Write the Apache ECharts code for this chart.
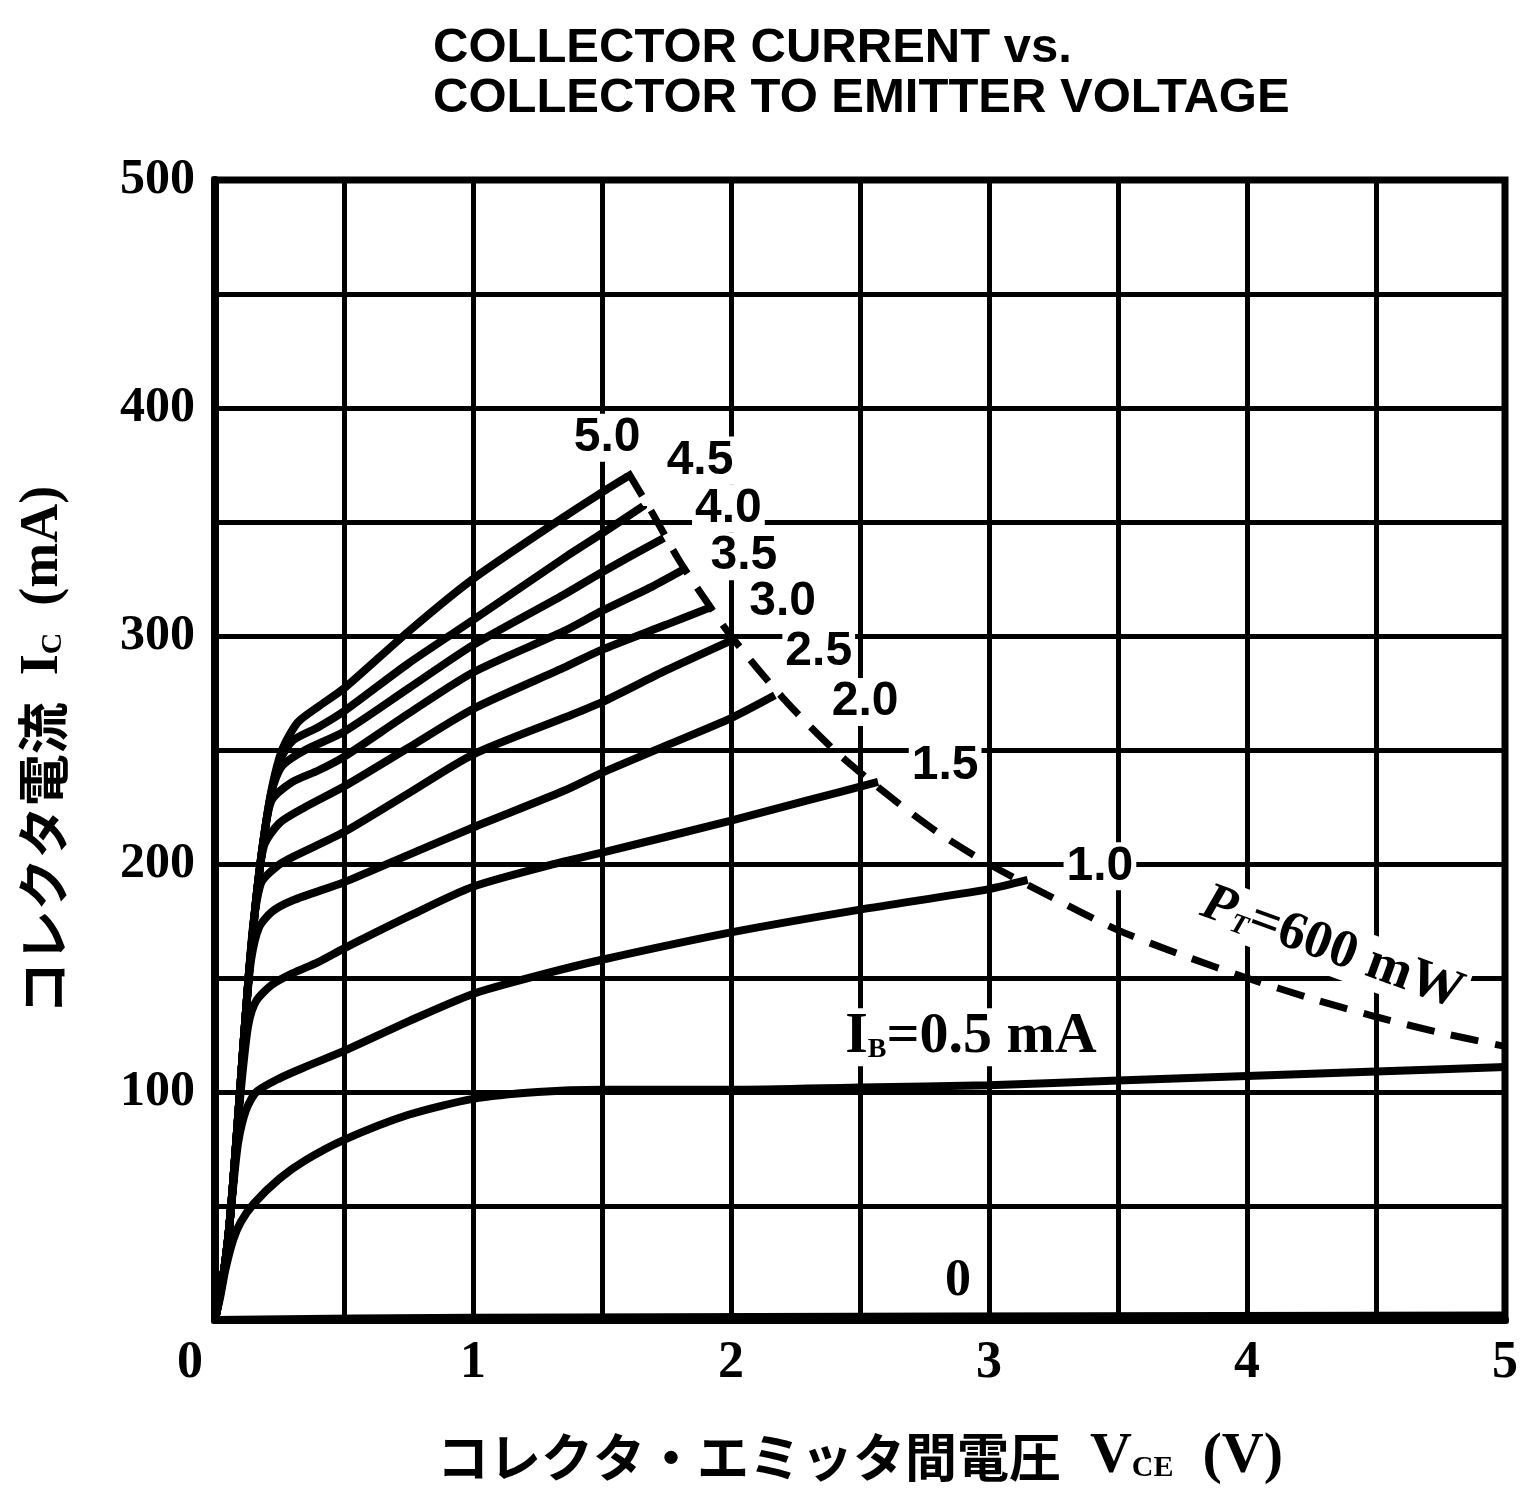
<!DOCTYPE html>
<html>
<head>
<meta charset="utf-8">
<script src="https://cdn.jsdelivr.net/npm/echarts@6/dist/echarts.min.js"></script>
<style>
html,body{margin:0;padding:0;background:#fff;}
#chart{width:1528px;height:1491px;}
</style>
</head>
<body>
<div id="chart"></div>
<script>
// ---- data (VCE in V, IC in mA) ----
const xTicks = [0, 1, 2, 3, 4, 5];
const yTicks = [100, 200, 300, 400, 500];

const ibLabels = ['0', '0.5', '1.0', '1.5', '2.0', '2.5', '3.0', '3.5', '4.0', '4.5', '5.0'];

const ib00 = [[0,0],[1,1],[5,2]];
const ib05 = [[0,0],[0.02,10],[0.04,22],[0.07,35],[0.1,43],[0.15,51],[0.25,62],[0.35,70],[0.5,79],[0.75,90],[1,97],[1.25,100],[1.5,101],[2,101],[2.5,102],[3,103],[3.5,105],[4,107],[4.5,109],[5,111]];
const ib10 = [[0,0],[0.03,18],[0.05,35],[0.07,58],[0.09,78],[0.12,92],[0.16,100],[0.25,106],[0.35,111],[0.5,118],[0.75,131],[1,143],[1.25,151],[1.5,158],[2,170],[2.5,180],[3,189],[3.15,193]];
const ib15 = [[0,0],[0.03,18],[0.05,35],[0.07,60],[0.09,88],[0.11,112],[0.13,130],[0.16,140],[0.22,147],[0.3,152],[0.4,157],[0.5,163],[0.75,177],[1,190],[1.35,201],[1.5,205],[2,219],[2.3,228],[2.57,236]];
const ib20 = [[0,0],[0.03,18],[0.05,35],[0.07,60],[0.1,105],[0.12,135],[0.14,158],[0.17,172],[0.22,179],[0.3,184],[0.5,192],[0.75,204],[1,216],[1.35,232],[1.5,240],[1.75,252],[2,264],[2.17,274]];
const ib25 = [[0,0],[0.03,18],[0.05,35],[0.07,60],[0.1,105],[0.13,150],[0.15,175],[0.18,192],[0.24,199],[0.3,203],[0.5,214],[0.75,231],[1,248],[1.35,264],[1.5,271],[1.75,285],[2,298]];
const ib30 = [[0,0],[0.03,18],[0.05,35],[0.07,60],[0.1,105],[0.13,150],[0.16,185],[0.19,208],[0.25,218],[0.35,225],[0.5,234],[0.75,251],[1,268],[1.35,286],[1.5,294],[1.75,305],[1.93,313]];
const ib35 = [[0,0],[0.03,18],[0.05,35],[0.07,60],[0.1,105],[0.13,150],[0.16,185],[0.19,212],[0.22,228],[0.3,236],[0.4,241],[0.5,247],[0.75,266],[1,284],[1.35,302],[1.5,311],[1.7,322],[1.83,330]];
const ib40 = [[0,0],[0.03,18],[0.05,35],[0.07,60],[0.1,105],[0.13,150],[0.16,185],[0.19,212],[0.22,232],[0.26,243],[0.35,250],[0.5,258],[0.75,277],[1,296],[1.35,318],[1.5,328],[1.74,343]];
const ib45 = [[0,0],[0.03,18],[0.05,35],[0.07,60],[0.1,105],[0.13,150],[0.16,185],[0.19,212],[0.22,232],[0.25,245],[0.3,254],[0.4,260],[0.5,267],[0.75,288],[1,307],[1.35,334],[1.5,345],[1.66,357]];
const ib50 = [[0,0],[0.03,18],[0.05,35],[0.07,60],[0.1,105],[0.13,150],[0.16,185],[0.19,212],[0.22,233],[0.26,250],[0.32,262],[0.4,269],[0.5,277],[0.75,302],[1,325],[1.35,352],[1.5,363],[1.6,370]];

// power dissipation limit PT = 600 mW
const ptLimit = [[1.6,372],[1.7,353],[1.8,333],[1.9,316],[2,300],[2.2,273],[2.4,250],[2.6,231],[2.8,214],[3,200],[3.25,185],[3.5,171],[3.75,160],[4,150],[4.25,141],[4.5,133],[4.75,126],[5,120]];

const curves = [ib00, ib05, ib10, ib15, ib20, ib25, ib30, ib35, ib40, ib45, ib50];

// ---- annotation placement (data coordinates) ----
const curveLabelAt = {
  '5.0': [1.52, 387], '4.5': [1.88, 377], '4.0': [1.99, 356], '3.5': [2.05, 335],
  '3.0': [2.20, 315], '2.5': [2.34, 293], '2.0': [2.52, 271], '1.5': [2.83, 243],
  '1.0': [3.43, 199], '0': [2.88, 17]
};

const SERIF = '"Liberation Serif","DejaVu Serif",serif';
const SANS = '"Liberation Sans","DejaVu Sans",sans-serif';
const CJK = '"Noto Sans CJK JP","Noto Sans CJK SC",sans-serif';

const chart = echarts.init(document.getElementById('chart'), null, {renderer: 'canvas'});

const series = curves.map((d, i) => ({
  name: 'IB=' + ibLabels[i],
  type: 'line',
  data: d,
  showSymbol: false,
  symbol: 'none',
  smooth: 0.25,
  lineStyle: {color: '#000', width: 8},
  z: 5,
  silent: true
}));

series.push({
  name: 'PT',
  type: 'line',
  data: ptLimit,
  showSymbol: false,
  symbol: 'none',
  smooth: 0.3,
  lineStyle: {color: '#000', width: 7, type: [28, 17]},
  z: 5,
  silent: true
});

const labelItems = [];
ibLabels.forEach(t => {
  if (t === '0.5') return;
  const p = curveLabelAt[t];
  labelItems.push({
    value: p,
    label: {
      formatter: t,
      color: '#000',
      fontFamily: t === '0' ? SERIF : SANS,
      fontWeight: 'bold',
      fontSize: t === '0' ? 52 : 48,
      backgroundColor: '#fff',
      padding: [0, 3, 0, 3]
    }
  });
});
labelItems.push({
  value: [2.93, 124],
  label: {
    formatter: '{i|I}{s|B}{n|=0.5 mA}',
    backgroundColor: '#fff',
    padding: [0, 4, 0, 4],
    rich: {
      i: {fontFamily: SERIF, fontWeight: 'bold', fontSize: 58, color: '#000'},
      s: {fontFamily: SERIF, fontWeight: 'bold', fontSize: 28, color: '#000', padding: [24, 0, 0, 0]},
      n: {fontFamily: SERIF, fontWeight: 'bold', fontSize: 58, color: '#000'}
    }
  }
});
labelItems.push({
  value: [4.33, 163],
  label: {
    formatter: '{i|P}{s|T}{n|=600 mW}',
    rotate: -20,
    backgroundColor: '#fff',
    padding: [0, 4, 0, 4],
    rich: {
      i: {fontFamily: SERIF, fontWeight: 'bold', fontStyle: 'italic', fontSize: 54, color: '#000'},
      s: {fontFamily: SERIF, fontWeight: 'bold', fontStyle: 'italic', fontSize: 28, color: '#000', padding: [22, 0, 0, 0]},
      n: {fontFamily: SERIF, fontWeight: 'bold', fontSize: 54, color: '#000'}
    }
  }
});

series.push({
  name: 'labels',
  type: 'scatter',
  data: labelItems,
  symbolSize: 0,
  silent: true,
  z: 10,
  itemStyle: {opacity: 1},
  label: {show: true, position: 'inside', color: '#000'}
});

const isInt = v => Math.abs(v - Math.round(v)) < 1e-6;

const option = {
  backgroundColor: '#fff',
  animation: false,
  title: {
    text: 'COLLECTOR CURRENT vs.\nCOLLECTOR TO EMITTER VOLTAGE',
    left: 428,
    top: 18,
    textStyle: {
      fontFamily: SANS, fontWeight: 'bold', fontSize: 49, lineHeight: 50, color: '#000'
    }
  },
  grid: {
    left: 215, right: 23, top: 180, bottom: 161,
    show: true, borderColor: '#000', borderWidth: 7, backgroundColor: 'transparent'
  },
  xAxis: {
    type: 'value', min: 0, max: 5, interval: 0.5,
    axisLine: {show: true, lineStyle: {color: '#000', width: 8}},
    axisTick: {show: false},
    splitLine: {show: true, lineStyle: {color: '#000', width: 5}},
    axisLabel: {
      margin: 18,
      color: '#000', fontFamily: SERIF, fontWeight: 'bold', fontSize: 52,
      formatter: v => {
        if (!isInt(v)) return '';
        const r = Math.round(v);
        if (xTicks.indexOf(r) < 0) return '';
        return r === 0 ? '{z|0}' : String(r);
      },
      rich: {z: {fontFamily: SERIF, fontWeight: 'bold', fontSize: 52, color: '#000', padding: [0, 50, 0, 0]}}
    },
    name: '{j|コレクタ・エミッタ間電圧}{n|  V}{s|CE}{n|  (V)}',
    nameLocation: 'middle',
    nameGap: 108,
    nameTextStyle: {
      rich: {
        j: {fontFamily: CJK, fontWeight: 'bold', fontSize: 52, color: '#000'},
        n: {fontFamily: SERIF, fontWeight: 'bold', fontSize: 58, color: '#000'},
        s: {fontFamily: SERIF, fontWeight: 'bold', fontSize: 30, color: '#000', padding: [22, 0, 0, 0]}
      }
    }
  },
  yAxis: {
    type: 'value', min: 0, max: 500, interval: 50,
    axisLine: {show: true, lineStyle: {color: '#000', width: 8}},
    axisTick: {show: false},
    splitLine: {show: true, lineStyle: {color: '#000', width: 5}},
    axisLabel: {
      margin: 20,
      color: '#000', fontFamily: SERIF, fontWeight: 'bold', fontSize: 50,
      formatter: v => (yTicks.indexOf(Math.round(v)) >= 0 && isInt(v)) ? String(Math.round(v)) : ''
    },
    name: '{j|コレクタ電流}{n|  I}{s|C}{n|  (mA)}',
    nameLocation: 'middle',
    nameRotate: 90,
    nameGap: 145,
    nameTextStyle: {
      rich: {
        j: {fontFamily: CJK, fontWeight: 'bold', fontSize: 52, color: '#000'},
        n: {fontFamily: SERIF, fontWeight: 'bold', fontSize: 54, color: '#000'},
        s: {fontFamily: SERIF, fontWeight: 'bold', fontSize: 30, color: '#000', padding: [20, 0, 0, 0]}
      }
    }
  },
  series: series
};

chart.setOption(option);
</script>
</body>
</html>
